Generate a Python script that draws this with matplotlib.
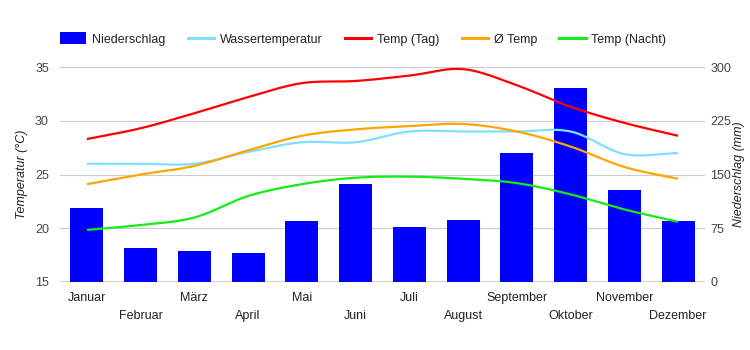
import numpy as np
import matplotlib
matplotlib.use("Agg")
import matplotlib.pyplot as plt
from matplotlib.lines import Line2D
from matplotlib.patches import Patch

months = ["Januar", "Februar", "März", "April", "Mai", "Juni", "Juli",
          "August", "September", "Oktober", "November", "Dezember"]
niederschlag = [103, 47, 43, 40, 85, 137, 77, 86, 180, 271, 128, 85]
wassertemp = [26.0, 26.0, 26.0, 27.1, 28.0, 28.0, 29.0, 29.0, 29.0, 29.0, 26.9, 27.0]
temp_tag = [28.3, 29.3, 30.7, 32.2, 33.5, 33.7, 34.2, 34.8, 33.3, 31.3, 29.8, 28.6]
temp_avg = [24.1, 25.0, 25.8, 27.25, 28.6, 29.2, 29.5, 29.7, 29.0, 27.6, 25.7, 24.6]
temp_nacht = [19.85, 20.3, 21.0, 23.0, 24.1, 24.7, 24.8, 24.6, 24.2, 23.15, 21.75, 20.6]

temp_ticks = [15, 20, 25, 30, 35]
precip_ticks = [0, 75, 150, 225, 300]

plt.rcParams['font.family'] = ['Liberation Sans', 'DejaVu Sans']


def smooth(y, n=30):
    y = np.asarray(y, float)
    x = np.arange(len(y), dtype=float)
    xs, ys = [], []
    N = len(y)
    for i in range(N - 1):
        p0 = y[i - 1] if i > 0 else y[i]
        p1 = y[i]
        p2 = y[i + 1]
        p3 = y[i + 2] if i + 2 < N else y[i + 1]
        m1 = (p2 - p0) / (2.0 if i > 0 else 1.0)
        m2 = (p3 - p1) / (2.0 if i + 2 < N else 1.0)
        t = np.linspace(0, 1, n, endpoint=(i == N - 2))
        h00 = 2 * t**3 - 3 * t**2 + 1
        h10 = t**3 - 2 * t**2 + t
        h01 = -2 * t**3 + 3 * t**2
        h11 = t**3 - t**2
        ys.append(h00 * p1 + h10 * m1 + h01 * p2 + h11 * m2)
        xs.append(x[i] + t)
    return np.concatenate(xs), np.concatenate(ys)


fig = plt.figure(figsize=(7.5, 3.5), dpi=100)
ax = fig.add_axes([60 / 750, (350 - 282) / 350, (705 - 60) / 750, (282 - 67) / 350])
ax2 = ax.twinx()

x = np.arange(len(months))

# bars on the precipitation axis (behind)
ax2.bar(x, niederschlag, width=0.615, color="#0000ff", zorder=2)
ax2.set_ylim(0, 300)
ax2.set_yticks(precip_ticks)
ax2.grid(axis="y", color="#cccccc", linewidth=0.8, zorder=0)
ax2.set_axisbelow(True)

# lines on temperature axis (front)
ax.set_zorder(ax2.get_zorder() + 1)
ax.patch.set_visible(False)
series = [
    (wassertemp, "#80deff"),
    (temp_tag, "#ff0000"),
    (temp_avg, "#ffa500"),
    (temp_nacht, "#11ee11"),
]
for vals, col in series:
    xs, ys = smooth(vals)
    ax.plot(xs, ys, color=col, linewidth=1.6, solid_capstyle="butt", zorder=3)

ax.set_ylim(15, 35)
ax.set_yticks(temp_ticks)
ax.set_xlim(-0.5, len(months) - 0.5)
ax.set_xticks(x)
ax.set_xticklabels([])

for a in (ax, ax2):
    for s in ("top", "right", "left"):
        a.spines[s].set_visible(False)
    a.spines["bottom"].set_visible(False)
    a.tick_params(axis="both", length=0, labelsize=9, colors="#444444")
ax.axhline(15, color="#333333", linewidth=1.0, zorder=5)

ax.tick_params(axis="y", pad=8)
ax2.tick_params(axis="y", pad=4)

# staggered month labels
for i, m in enumerate(months):
    yoff = -16 if i % 2 == 0 else -34
    ax.annotate(m, xy=(i, 15), xycoords="data", xytext=(0, yoff),
                textcoords="offset pixels", ha="center", va="center",
                fontsize=9, color="#222222")

ax.set_ylabel("Temperatur (°C)", fontsize=9, style="italic", color="#222222", labelpad=5)
ax2.set_ylabel("Niederschlag (mm)", fontsize=9, style="italic", color="#222222",
               rotation=90, labelpad=1)

handles = [
    Patch(facecolor="#0000ff", edgecolor="none"),
    Line2D([], [], color="#80deff", linewidth=2.2),
    Line2D([], [], color="#ff0000", linewidth=2.2),
    Line2D([], [], color="#ffa500", linewidth=2.2),
    Line2D([], [], color="#11ee11", linewidth=2.2),
]
labels = ["Niederschlag", "Wassertemperatur", "Temp (Tag)", "Ø Temp", "Temp (Nacht)"]
leg = fig.legend(handles, labels, loc="center left", bbox_to_anchor=(60 / 750, 1 - 39 / 350),
                 ncol=5, frameon=False, fontsize=9, handlelength=2.1, handleheight=1.1,
                 handletextpad=0.45, columnspacing=1.8, borderaxespad=0, borderpad=0)
for t in leg.get_texts():
    t.set_color("#222222")

fig.savefig("out.png", dpi=100, facecolor="white")
